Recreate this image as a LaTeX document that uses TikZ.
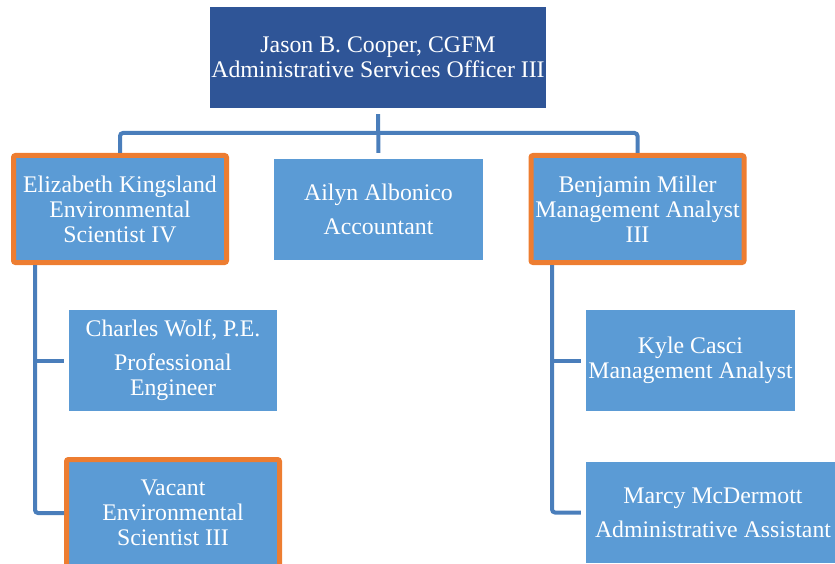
\documentclass[tikz,border=0pt]{standalone}
\usepackage{fontspec}
\setmainfont{Liberation Serif}
\definecolor{chiefblue}{HTML}{2F5597}
\definecolor{staffblue}{HTML}{5B9BD5}
\definecolor{linkblue}{HTML}{4A7EBB}
\definecolor{leadorange}{HTML}{ED7D31}
\tikzset{
    box/.style ={
        rectangle,
        fill=staffblue,
        text=white,
        align=center,
        minimum width =208pt,
        minimum height =101pt,
        inner sep=1pt
    },
    lead/.style ={
        box,
        draw=leadorange,
        line width=5pt,
        rounded corners=2pt,
        minimum width =213pt,
        minimum height =107pt
    },
    link/.style ={
        draw=linkblue,
        line width=4pt,
        rounded corners=3pt
    }
}

\begin{document}
\begin{tikzpicture}[x=1pt,y=-1pt,font=\fontsize{23.8}{25}\selectfont]
        \useasboundingbox (0,0) rectangle (835,564);

        \node[box,fill=chiefblue,minimum width=334pt] (CHIEF) at(378,57.5) {Jason B. Cooper, CGFM\\Administrative Services Officer III};
        \node[lead] (ENVLEAD) at(120,209) {Elizabeth Kingsland\\Environmental\\Scientist IV};
        \node[box,minimum width=209pt] (ACCT) at(378.5,209.5) {Ailyn Albonico\\[9pt]Accountant};
        \node[lead] (MGMTLEAD) at(637.5,209) {Benjamin Miller\\Management Analyst\\III};
        \node[box] (ENGR) at(173,360.5) {Charles Wolf, P.E.\\[9pt]Professional\\Engineer};
        \node[lead] (VACANT) at(173,513) {Vacant\\Environmental\\Scientist III};
        \node[box,minimum width=209pt] (ANALYST) at(690.5,360.5) {Kyle Casci\\Management Analyst};
        \node[box,minimum width=254pt] (ASSIST) at(713,512.5) {Marcy McDermott\\[9pt]Administrative Assistant};
        \coordinate (BUS) at(378,133);

        \draw[link,shorten <=6pt,shorten >=6pt] (CHIEF)--(ACCT);
        \draw[link] (ENVLEAD.north) |- (BUS) -| (MGMTLEAD.north);
        \draw[link] ([xshift=-85pt]ENVLEAD.south) |- (VACANT.west);
        \draw[link,sharp corners,shorten >=5pt] ([xshift=-85pt]ENVLEAD.south) |- (ENGR.west);
        \draw[link,shorten >=5pt] ([xshift=-85.5pt]MGMTLEAD.south) |- (ASSIST.west);
        \draw[link,sharp corners,shorten >=5pt] ([xshift=-85.5pt]MGMTLEAD.south) |- (ANALYST.west);
    \end{tikzpicture}
\end{document}
